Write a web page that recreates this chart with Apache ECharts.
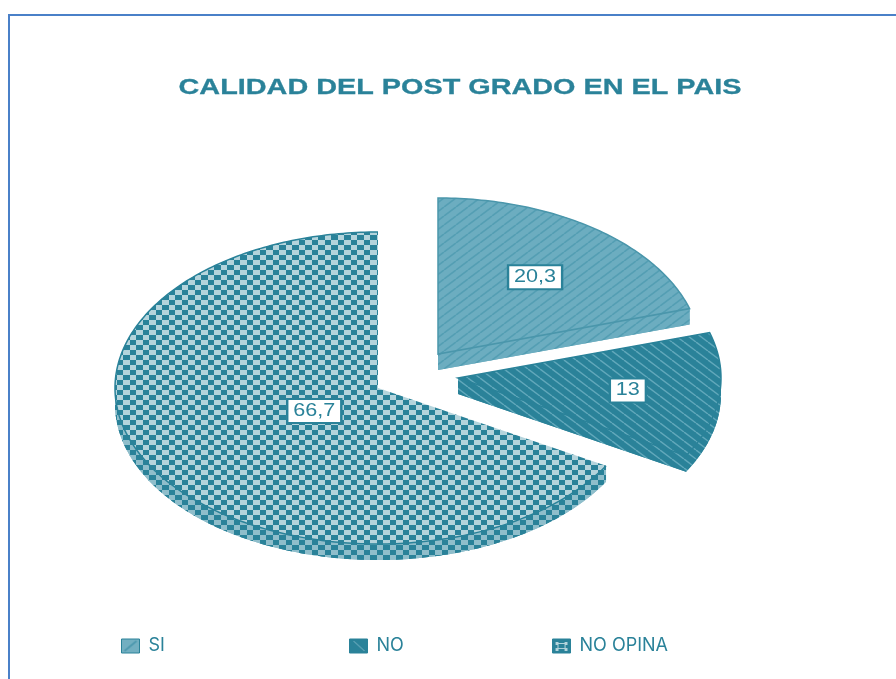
<!DOCTYPE html>
<html>

<head>
    <meta charset="utf-8">
    <title>ECharts</title>
    <script src="https://cdn.jsdelivr.net/npm/echarts@6/dist/echarts.min.js"></script>
    <style>
        html, body { margin: 0; padding: 0; background: #fff; }
    </style>
</head>

<body>
    <div id="main" style="width: 896px;height:679px;"></div>
    <script>
        var chartTitle = 'CALIDAD DEL POST GRADO EN EL PAIS';
        var categories = ['SI', 'NO', 'NO OPINA'];
        var values = [20.3, 13, 66.7];
        var valueLabels = ['20,3', '13', '66,7'];

        // layout of the tilted pie
        var radiusX = 263, radiusY = 156, depth = 16;
        var centers = [[438, 354], [458, 378], [378, 388]];
        var labelFraction = [0.62, 0.65, 0.28];
        var legendLeft = [121, 349, 552];

        var teal = '#2a8299';
        var sans = '"Liberation Sans", Arial, sans-serif';

        function hatch(bg, line, dir, width) {
            var c = document.createElement('canvas');
            c.width = 12; c.height = 9;
            var g = c.getContext('2d');
            g.fillStyle = bg;
            g.fillRect(0, 0, 12, 9);
            g.strokeStyle = line;
            g.lineWidth = width;
            [-12, 0, 12].forEach(function (i) {
                g.beginPath();
                if (dir > 0) { g.moveTo(i, 9); g.lineTo(i + 12, 0); }
                else { g.moveTo(i, 0); g.lineTo(i + 12, 9); }
                g.stroke();
            });
            return { image: c, repeat: 'repeat' };
        }

        function checker(a, b) {
            var c = document.createElement('canvas');
            c.width = 13; c.height = 10;
            var g = c.getContext('2d');
            g.fillStyle = a;
            g.fillRect(0, 0, 13, 10);
            g.fillStyle = b;
            g.fillRect(0, 0, 6, 5);
            g.fillRect(6, 5, 7, 5);
            return { image: c, repeat: 'repeat' };
        }

        // legend swatches, one drawing per box
        function swatch(draw) {
            var c = document.createElement('canvas');
            c.width = 18; c.height = 14;
            draw(c.getContext('2d'));
            return { image: c, repeat: 'repeat' };
        }

        var legendFills = [
            swatch(function (g) {
                g.fillStyle = '#72afc1';
                g.fillRect(0, 0, 18, 14);
                g.strokeStyle = '#4f9ab0';
                g.lineWidth = 2;
                g.beginPath(); g.moveTo(3, 12); g.lineTo(15, 2); g.stroke();
            }),
            swatch(function (g) {
                g.fillStyle = teal;
                g.fillRect(0, 0, 18, 14);
                g.strokeStyle = '#7db6c6';
                g.lineWidth = 1;
                g.beginPath(); g.moveTo(4, 2); g.lineTo(15, 12); g.stroke();
            }),
            swatch(function (g) {
                g.fillStyle = teal;
                g.fillRect(0, 0, 18, 14);
                g.fillStyle = '#b4d4dc';
                g.fillRect(3, 3, 3, 3); g.fillRect(12, 3, 3, 3);
                g.fillRect(3, 9, 3, 3); g.fillRect(12, 9, 3, 3);
                g.strokeStyle = '#b4d4dc';
                g.lineWidth = 1;
                g.strokeRect(5.5, 4.5, 7, 5);
            })
        ];

        var fills = [
            hatch('#6cadc0', '#549eb3', 1, 1.6),
            hatch('#2a8299', '#62a8bb', -1, 1.4),
            checker('#b4d4dc', teal)
        ];
        var sideFills = [fills[0], fills[1], checker('#8fbecb', teal)];
        var borders = ['#4a96ab', teal, null];
        var arcBorders = [null, null, teal];

        function arcPoint(c, angle, dy) {
            return [c[0] + radiusX * Math.sin(angle), c[1] - radiusY * Math.cos(angle) + dy];
        }

        function arcPoints(c, from, to, dy) {
            var pts = [];
            var n = Math.max(2, Math.ceil((to - from) * 60));
            for (var i = 0; i <= n; i++) {
                pts.push(arcPoint(c, from + (to - from) * i / n, dy));
            }
            return pts;
        }

        function renderSlice(index) {
            return function (params, api) {
                var before = 0, total = 0;
                values.forEach(function (v, i) {
                    total += v;
                    if (i < index) before += v;
                });
                var a0 = before / total * Math.PI * 2;
                var a1 = a0 + api.value(0) / total * Math.PI * 2;
                var c = centers[index];
                var rim = arcPoints(c, a0, a1, 0);
                var top = [c].concat(rim);
                var low = [[c[0], c[1] + depth]].concat(arcPoints(c, a0, a1, depth));
                var end0 = arcPoint(c, a1, 0), end1 = arcPoint(c, a1, depth);
                var band = rim.concat(arcPoints(c, a0, a1, depth).reverse());
                var mid = (a0 + a1) / 2;
                var f = labelFraction[index];
                var sideStyle = { fill: sideFills[index], stroke: null };

                var children = [
                    { type: 'polygon', shape: { points: low }, style: sideStyle },
                    { type: 'polygon', shape: { points: band }, style: sideStyle },
                    {
                        type: 'polygon',
                        shape: { points: [c, end0, end1, [c[0], c[1] + depth]] },
                        style: sideStyle
                    },
                    {
                        type: 'polygon',
                        shape: { points: top },
                        style: { fill: fills[index], stroke: borders[index], lineWidth: 1.5 }
                    }
                ];
                if (arcBorders[index]) {
                    children.push({
                        type: 'polyline',
                        shape: { points: rim },
                        style: { fill: null, stroke: arcBorders[index], lineWidth: 1.5 }
                    });
                }
                children.push({
                    type: 'text',
                    x: c[0] + radiusX * Math.sin(mid) * f,
                    y: c[1] - radiusY * Math.cos(mid) * f + 1,
                    scaleX: 1.2,
                    style: {
                        text: valueLabels[index],
                        fill: teal,
                        font: '18px ' + sans,
                        align: 'center',
                        verticalAlign: 'middle',
                        backgroundColor: '#fff',
                        borderColor: teal,
                        borderWidth: 2,
                        padding: [2, 4, 2, 4]
                    }
                });

                return { type: 'group', children: children };
            };
        }

        var myChart = echarts.init(document.getElementById('main'));

        var option = {
            animation: false,
            backgroundColor: '#fff',
            legend: categories.map(function (name, i) {
                return {
                    data: [{
                        name: name,
                        icon: 'rect',
                        itemStyle: { color: legendFills[i], borderColor: teal, borderWidth: 1 }
                    }],
                    left: legendLeft[i],
                    top: 637,
                    padding: 0,
                    itemWidth: 18,
                    itemHeight: 14,
                    textStyle: {
                        color: teal,
                        fontFamily: 'Inter, sans-serif',
                        fontSize: 18,
                        padding: [0, 0, 0, 4]
                    }
                };
            }),
            graphic: [{
                type: 'rect',
                shape: { x: 9, y: 15, width: 960, height: 760 },
                style: { fill: null, stroke: '#4a80c8', lineWidth: 2 },
                silent: true
            }, {
                type: 'text',
                x: 460,
                y: 88,
                scaleX: 1.34,
                style: {
                    text: chartTitle,
                    fill: teal,
                    stroke: teal,
                    lineWidth: 0.3,
                    font: 'bold 21.5px ' + sans,
                    align: 'center',
                    verticalAlign: 'middle'
                }
            }],
            series: categories.map(function (name, i) {
                return {
                    type: 'custom',
                    name: name,
                    coordinateSystem: 'none',
                    itemStyle: { color: fills[i] },
                    data: [values[i]],
                    renderItem: renderSlice(i)
                };
            })
        };

        myChart.setOption(option);
    </script>
</body>

</html>
